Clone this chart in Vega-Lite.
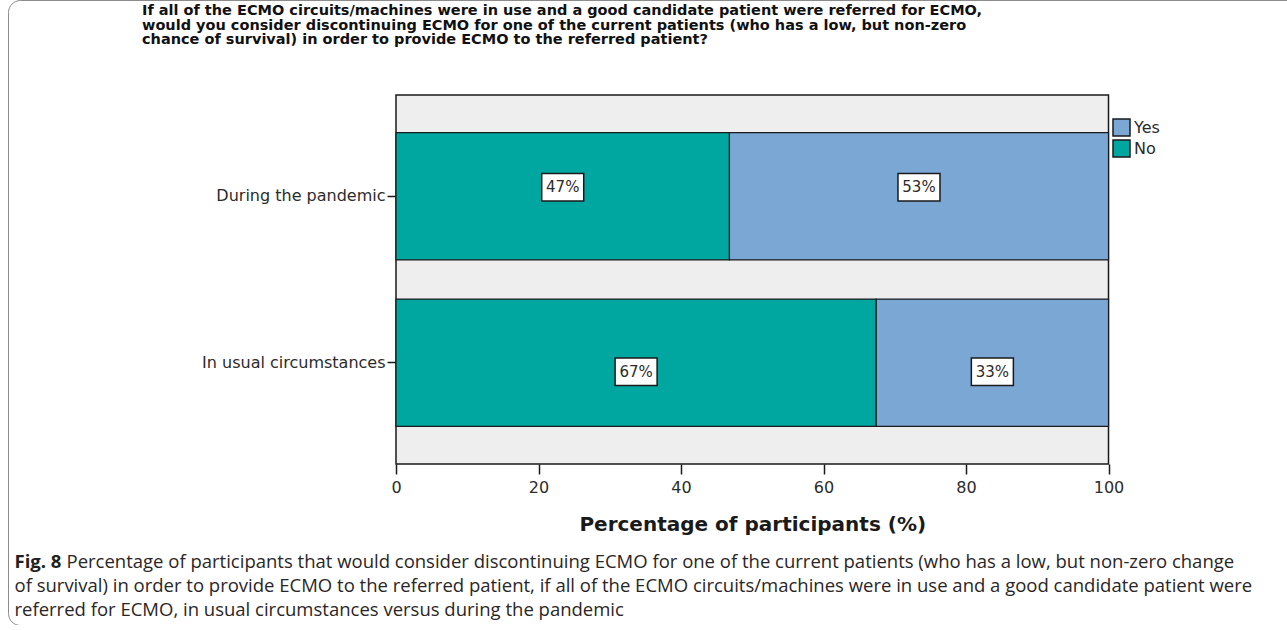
{
  "$schema": "https://vega.github.io/schema/vega-lite/v6.json",
  "width": 1300,
  "height": 625,
  "autosize": "none",
  "padding": {"left": 8, "top": 0, "right": 0, "bottom": 0},
  "background": "white",
  "config": {
    "view": {"stroke": "#8c8c8c", "strokeWidth": 1, "cornerRadius": 12, "fill": "white"},
    "axis": {"grid": false},
    "font": "DejaVu Sans"
  },
  "title": {
    "text": [
      "If all of the ECMO circuits/machines were in use and a good candidate patient were referred for ECMO,",
      "would you consider discontinuing ECMO for one of the current patients (who has a low, but non-zero",
      "chance of survival) in order to provide ECMO to the referred patient?"
    ],
    "anchor": "start",
    "frame": "group",
    "dx": 134,
    "offset": -47.5,
    "font": "DejaVu Sans",
    "fontSize": 14.5,
    "fontWeight": "bold",
    "lineHeight": 14.5,
    "color": "#111111"
  },
  "datasets": {
    "responses": [
      {"condition": "During the pandemic", "response": "No", "pct": 46.8, "label": "47%"},
      {"condition": "During the pandemic", "response": "Yes", "pct": 53.2, "label": "53%"},
      {"condition": "In usual circumstances", "response": "No", "pct": 67.4, "label": "67%"},
      {"condition": "In usual circumstances", "response": "Yes", "pct": 32.6, "label": "33%"}
    ]
  },
  "data": {"name": "responses"},
  "layer": [
    {
      "data": {"values": [{}]},
      "mark": {"type": "rect", "fill": "#eeeeee", "stroke": "#1a1a1a", "strokeWidth": 1.5},
      "encoding": {
        "x": {
          "datum": 0, "type": "quantitative",
          "scale": {"domain": [0, 100], "range": [388, 1100.5], "nice": false, "zero": false},
          "axis": {
            "orient": "bottom", "offset": -161, "values": [0, 20, 40, 60, 80, 100], "domain": false,
            "tickSize": 10, "tickWidth": 1.5, "tickColor": "#1a1a1a",
            "labelFont": "DejaVu Sans", "labelFontSize": 16, "labelColor": "#2b2b2b", "labelPadding": 5, "labelFlush": false,
            "title": "Percentage of participants (%)", "titleFont": "DejaVu Sans", "titleFontSize": 20,
            "titleFontWeight": "bold", "titleColor": "#1a1a1a", "titlePadding": 19
          }
        },
        "x2": {"datum": 100},
        "y": {
          "datum": 0, "type": "quantitative",
          "scale": {"domain": [0, 1], "range": [464, 95], "nice": false, "zero": false},
          "axis": {
            "orient": "left", "offset": 0, "labels": false, "ticks": false, "domain": false, "grid": false,
            "title": [
              "of survival) in order to provide ECMO to the referred patient, if all of the ECMO circuits/machines were in use and a good candidate patient were",
              "referred for ECMO, in usual circumstances versus during the pandemic"
            ],
            "titleX": 6, "titleY": 591, "titleAngle": 0, "titleAlign": "left", "titleBaseline": "alphabetic",
            "titleFont": "Open Sans", "titleFontSize": 18.5, "titleFontWeight": "normal", "titleColor": "#2a2627",
            "titleLineHeight": 24, "titleLimit": 3000
          }
        },
        "y2": {"datum": 1}
      }
    },
    {
      "mark": {"type": "bar", "stroke": "#1a1a1a", "strokeWidth": 1.2},
      "encoding": {
        "y": {
          "field": "condition", "type": "nominal",
          "sort": ["During the pandemic", "In usual circumstances"],
          "scale": {"range": [95, 464], "paddingInner": 0.235, "paddingOuter": 0.226},
          "axis": {
            "orient": "left", "offset": -388, "title": null, "domain": false, "ticks": true,
            "tickSize": 9, "tickWidth": 1.5, "tickColor": "#1a1a1a",
            "labelFont": "DejaVu Sans", "labelFontSize": 16, "labelColor": "#2b2b2b", "labelPadding": 2, "labelLimit": 400
          }
        },
        "x": {
          "field": "pct", "type": "quantitative", "stack": "zero",
          "scale": {"domain": [0, 100], "range": [388, 1100.5], "nice": false, "zero": false},
          "axis": {
            "orient": "bottom", "offset": -161, "values": [0, 20, 40, 60, 80, 100], "domain": false,
            "tickSize": 10, "tickWidth": 1.5, "tickColor": "#1a1a1a",
            "labelFont": "DejaVu Sans", "labelFontSize": 16, "labelColor": "#2b2b2b", "labelPadding": 5, "labelFlush": false,
            "title": "Percentage of participants (%)", "titleFont": "DejaVu Sans", "titleFontSize": 20,
            "titleFontWeight": "bold", "titleColor": "#1a1a1a", "titlePadding": 19
          }
        },
        "color": {
          "field": "response", "type": "nominal",
          "scale": {"domain": ["Yes", "No"], "range": ["#7ba7d5", "#00a6a0"]},
          "legend": {
            "orient": "none", "legendX": 1104, "legendY": 118, "title": null,
            "symbolType": "square", "symbolSize": 289, "symbolStrokeColor": "#1a1a1a", "symbolStrokeWidth": 1.5,
            "labelFont": "DejaVu Sans", "labelFontSize": 16, "labelColor": "#2b2b2b", "labelOffset": 3,
            "rowPadding": -2, "padding": 0
          }
        },
        "order": {"field": "response", "sort": "ascending"}
      }
    },
    {
      "mark": {"type": "point", "shape": "M-1,-0.66L1,-0.66L1,0.66L-1,0.66Z", "size": 1764, "filled": true, "fill": "white", "stroke": "#1a1a1a", "strokeWidth": 1.5, "opacity": 1},
      "encoding": {
        "y": {
          "field": "condition", "type": "nominal",
          "sort": ["During the pandemic", "In usual circumstances"],
          "scale": {"range": [95, 464], "paddingInner": 0.235, "paddingOuter": 0.226},
          "axis": {
            "orient": "left", "offset": 0, "labels": false, "ticks": false, "domain": false,
            "title": "Fig. 8", "titleX": 6, "titleY": 567, "titleAngle": 0, "titleAlign": "left", "titleBaseline": "alphabetic",
            "titleFont": "Open Sans", "titleFontSize": 18.5, "titleFontWeight": "bold", "titleColor": "#231f20"
          }
        },
        "x": {
          "field": "pct", "type": "quantitative", "stack": "zero", "bandPosition": 0.5,
          "scale": {"domain": [0, 100], "range": [388, 1100.5], "nice": false, "zero": false},
          "axis": {
            "orient": "bottom", "offset": -161, "values": [0, 20, 40, 60, 80, 100], "domain": false,
            "tickSize": 10, "tickWidth": 1.5, "tickColor": "#1a1a1a",
            "labelFont": "DejaVu Sans", "labelFontSize": 16, "labelColor": "#2b2b2b", "labelPadding": 5, "labelFlush": false,
            "title": "Percentage of participants (%)", "titleFont": "DejaVu Sans", "titleFontSize": 20,
            "titleFontWeight": "bold", "titleColor": "#1a1a1a", "titlePadding": 19
          }
        },
        "detail": {"field": "response", "type": "nominal"},
        "order": {"field": "response", "sort": "ascending"}
      }
    },
    {
      "mark": {"type": "text", "font": "DejaVu Sans", "fontSize": 15, "color": "#2b2b2b"},
      "encoding": {
        "y": {
          "field": "condition", "type": "nominal",
          "sort": ["During the pandemic", "In usual circumstances"],
          "scale": {"range": [95, 464], "paddingInner": 0.235, "paddingOuter": 0.226},
          "axis": {
            "orient": "left", "offset": 0, "labels": false, "ticks": false, "domain": false,
            "title": "Percentage of participants that would consider discontinuing ECMO for one of the current patients (who has a low, but non-zero change",
            "titleX": 58, "titleY": 567, "titleAngle": 0, "titleAlign": "left", "titleBaseline": "alphabetic",
            "titleFont": "Open Sans", "titleFontSize": 18.5, "titleFontWeight": "normal", "titleColor": "#2a2627", "titleLimit": 3000
          }
        },
        "x": {
          "field": "pct", "type": "quantitative", "stack": "zero", "bandPosition": 0.5,
          "scale": {"domain": [0, 100], "range": [388, 1100.5], "nice": false, "zero": false},
          "axis": {
            "orient": "bottom", "offset": -161, "values": [0, 20, 40, 60, 80, 100], "domain": false,
            "tickSize": 10, "tickWidth": 1.5, "tickColor": "#1a1a1a",
            "labelFont": "DejaVu Sans", "labelFontSize": 16, "labelColor": "#2b2b2b", "labelPadding": 5, "labelFlush": false,
            "title": "Percentage of participants (%)", "titleFont": "DejaVu Sans", "titleFontSize": 20,
            "titleFontWeight": "bold", "titleColor": "#1a1a1a", "titlePadding": 19
          }
        },
        "detail": {"field": "response", "type": "nominal"},
        "order": {"field": "response", "sort": "ascending"},
        "text": {"field": "label"}
      }
    }
  ],
  "resolve": {"scale": {"y": "independent"}}
}
